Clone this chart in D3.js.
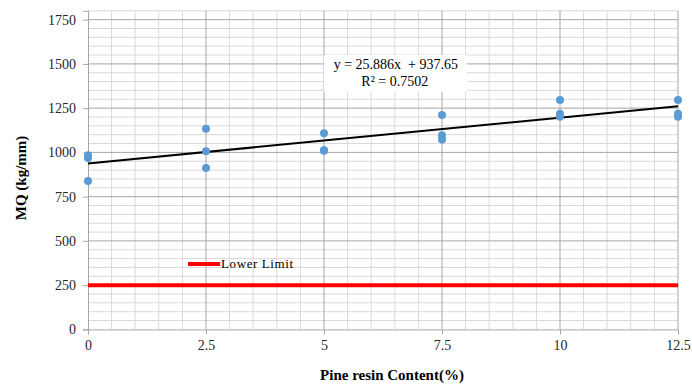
<!DOCTYPE html>
<html>
<head>
<meta charset="utf-8">
<script src="https://cdn.jsdelivr.net/npm/d3@7"></script>
<style>
  body { margin: 0; background: #fff; }
  svg { display: block; font-family: "Liberation Serif", "Times New Roman", serif; }
</style>
</head>
<body>
<svg width="692" height="385"></svg>
<script>
// data
const resinContent = [0, 0, 0, 2.5, 2.5, 2.5, 5, 5, 5, 7.5, 7.5, 7.5, 10, 10, 10, 12.5, 12.5, 12.5]
const mqValues = [984, 968, 839, 1133, 1007, 912, 1108, 1012, 1010, 1212, 1097, 1073, 1296, 1219, 1202, 1296, 1219, 1202]
const xTicks = [0, 2.5, 5, 7.5, 10, 12.5]
const yTicks = [0, 250, 500, 750, 1000, 1250, 1500, 1750]
const trendSlope = 25.886
const trendIntercept = 937.65
const rSquared = 0.7502
const lowerLimit = 250

const svg = d3.select('svg')
const margin = {top: 10.8, right: 14, bottom: 55.6, left: 88}
const width = +svg.attr('width')
const height = +svg.attr('height')
const innerWidth = width - margin.left - margin.right
const innerHeight = height - margin.top - margin.bottom

const x = d3.scaleLinear().domain([0, 12.5]).range([0, innerWidth])
const y = d3.scaleLinear().domain([0, 1800]).range([innerHeight, 0])

const g = svg.append('g')
  .attr('transform', `translate(${margin.left}, ${margin.top})`)

// minor grid
const minorX = d3.range(0, 12.5001, 0.5).filter(v => !xTicks.includes(v))
const minorY = d3.range(0, 1800.1, 50).filter(v => !yTicks.includes(v))

g.append('g').selectAll('line')
  .data(minorX)
  .join('line')
  .attr('x1', d => x(d)).attr('x2', d => x(d))
  .attr('y1', 0).attr('y2', innerHeight)
  .attr('stroke', '#d9d9d9')

g.append('g').selectAll('line')
  .data(minorY)
  .join('line')
  .attr('x1', 0).attr('x2', innerWidth)
  .attr('y1', d => y(d)).attr('y2', d => y(d))
  .attr('stroke', '#d9d9d9')

// major grid
g.append('g').selectAll('line')
  .data(xTicks.slice(1))
  .join('line')
  .attr('x1', d => x(d)).attr('x2', d => x(d))
  .attr('y1', 0).attr('y2', innerHeight)
  .attr('stroke', '#a6a6a6')

g.append('g').selectAll('line')
  .data(yTicks.slice(1))
  .join('line')
  .attr('x1', 0).attr('x2', innerWidth)
  .attr('y1', d => y(d)).attr('y2', d => y(d))
  .attr('stroke', '#a6a6a6')

// axes
const xAxis = g.append('g')
  .attr('transform', `translate(0, ${innerHeight})`)
  .call(d3.axisBottom(x).tickValues(xTicks).tickSize(5).tickPadding(6).tickFormat(d => d))
const yAxis = g.append('g')
  .call(d3.axisLeft(y).tickValues(yTicks).tickSize(5).tickPadding(7).tickFormat(d3.format('d')))

for (const ax of [xAxis, yAxis]) {
  ax.select('.domain').attr('stroke', '#a6a6a6')
  ax.selectAll('.tick line').attr('stroke', '#a6a6a6')
  ax.selectAll('.tick text')
    .attr('font-family', '"Liberation Serif", serif')
    .attr('font-size', 14)
    .attr('fill', '#262626')
}

// lower limit
g.append('line')
  .attr('x1', x(0)).attr('x2', x(12.5))
  .attr('y1', y(lowerLimit)).attr('y2', y(lowerLimit))
  .attr('stroke', '#ff0000')
  .attr('stroke-width', 4)

// trend line
g.append('line')
  .attr('x1', x(0)).attr('x2', x(12.5))
  .attr('y1', y(trendIntercept)).attr('y2', y(trendIntercept + trendSlope * 12.5))
  .attr('stroke', '#000')
  .attr('stroke-width', 2)

// points
g.append('g').selectAll('circle')
  .data(resinContent)
  .join('circle')
  .attr('cx', d => x(d))
  .attr('cy', (_, i) => y(mqValues[i]))
  .attr('r', 4)
  .attr('fill', '#5b9bd5')

// equation label
const labelG = g.append('g')
  .attr('transform', `translate(${x(6.5)}, ${y(1446)})`)
labelG.append('rect')
  .attr('x', -71).attr('y', -18.5)
  .attr('width', 143).attr('height', 37)
  .attr('fill', '#fff')
labelG.append('text')
  .attr('x', 1).attr('y', -4)
  .attr('text-anchor', 'middle')
  .attr('font-size', 14)
  .attr('fill', '#000')
  .attr('xml:space', 'preserve')
  .text(`y = ${trendSlope}x  + ${trendIntercept}`)
labelG.append('text')
  .attr('x', 0).attr('y', 12.5)
  .attr('text-anchor', 'middle')
  .attr('font-size', 14)
  .attr('fill', '#000')
  .text(`R² = ${rSquared}`)

// legend
const legend = svg.append('g')
  .attr('transform', 'translate(188, 264)')
legend.append('line')
  .attr('x1', 0).attr('x2', 32)
  .attr('stroke', '#ff0000')
  .attr('stroke-width', 4)
legend.append('text')
  .attr('x', 33).attr('y', 4)
  .attr('font-size', 13)
  .attr('letter-spacing', 0.6)
  .attr('fill', '#000')
  .text('Lower Limit')

// axis titles
svg.append('text')
  .attr('x', 392).attr('y', 380)
  .attr('text-anchor', 'middle')
  .attr('font-size', 15)
  .attr('font-weight', 'bold')
  .attr('fill', '#000')
  .text('Pine resin Content(%)')

svg.append('text')
  .attr('transform', 'translate(26, 178) rotate(-90)')
  .attr('text-anchor', 'middle')
  .attr('font-size', 15)
  .attr('font-weight', 'bold')
  .attr('fill', '#000')
  .text('MQ (kg/mm)')
</script>
</body>
</html>
